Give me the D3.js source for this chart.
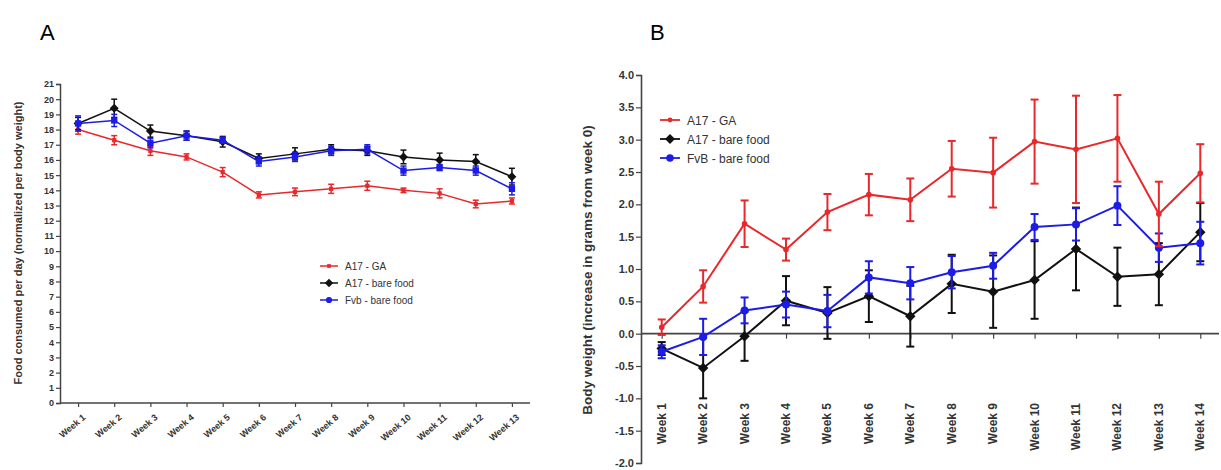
<!DOCTYPE html>
<html>
<head>
<meta charset="utf-8">
<script src="https://cdn.jsdelivr.net/npm/d3@7"></script>
<style>
  body { margin: 0; background: #fff; }
  text { font-family: "Liberation Sans", Arial, sans-serif; }
</style>
</head>
<body>
<div id="chart"></div>
<script>
// Panel A: food consumed per day
const weeksA = d3.range(1, 14).map(i => "Week " + i);
const foodGA = [18.0, 17.3, 16.6, 16.2, 15.2, 13.7, 13.9, 14.1, 14.3, 14.0, 13.8, 13.1, 13.3];
const foodGAErr = [0.3, 0.3, 0.3, 0.2, 0.3, 0.2, 0.25, 0.3, 0.3, 0.15, 0.3, 0.25, 0.2];
const foodA17 = [18.4, 19.4, 17.9, 17.6, 17.2, 16.1, 16.4, 16.7, 16.6, 16.2, 16.0, 15.9, 14.9];
const foodA17Err = [0.4, 0.6, 0.4, 0.3, 0.35, 0.3, 0.4, 0.3, 0.3, 0.45, 0.45, 0.45, 0.55];
const foodFvb = [18.4, 18.6, 17.1, 17.6, 17.3, 15.9, 16.2, 16.6, 16.7, 15.3, 15.5, 15.3, 14.1];
const foodFvbErr = [0.5, 0.4, 0.3, 0.3, 0.2, 0.3, 0.3, 0.3, 0.3, 0.3, 0.2, 0.3, 0.4];
const legendA = ["A17 - GA", "A17 - bare food", "Fvb - bare food"];

// Panel B: body weight gain
const weeksB = d3.range(1, 15).map(i => "Week " + i);
const bwGA = [0.10, 0.73, 1.70, 1.30, 1.88, 2.15, 2.07, 2.55, 2.49, 2.97, 2.85, 3.02, 1.85, 2.48];
const bwGAErr = [0.12, 0.25, 0.36, 0.17, 0.28, 0.32, 0.33, 0.43, 0.54, 0.65, 0.83, 0.67, 0.5, 0.45];
const bwA17 = [-0.23, -0.53, -0.04, 0.51, 0.32, 0.58, 0.27, 0.77, 0.65, 0.83, 1.31, 0.88, 0.92, 1.57];
const bwA17Err = [0.1, 0.47, 0.38, 0.38, 0.4, 0.4, 0.47, 0.45, 0.56, 0.6, 0.64, 0.45, 0.48, 0.45];
const bwFvb = [-0.28, -0.05, 0.36, 0.45, 0.35, 0.87, 0.78, 0.95, 1.05, 1.65, 1.69, 1.98, 1.33, 1.40];
const bwFvbErr = [0.1, 0.28, 0.2, 0.2, 0.25, 0.25, 0.25, 0.25, 0.2, 0.2, 0.25, 0.3, 0.22, 0.33];
const legendB = ["A17 - GA", "A17 - bare food", "FvB - bare food"];

const colors = { red: "#e8282a", black: "#111111", blue: "#1c1ce6" };
const axisColor = "#444";

const svg = d3.select("#chart").append("svg")
  .attr("width", 1221)
  .attr("height", 470);

// marker shapes (diamond = square turned 45deg, like the original)
function drawMarker(g, shape, x, y, size, color) {
  let sym = shape === "circle" ? d3.symbolCircle : d3.symbolSquare;
  let rot = shape === "diamond" ? " rotate(45)" : "";
  g.append("path")
    .attr("d", d3.symbol().type(sym).size(size)())
    .attr("transform", `translate(${x},${y})${rot}`)
    .attr("fill", color);
}

function drawSeries(g, x, y, cats, vals, errs, color, shape, size, cap, lw) {
  const line = d3.line().x((d, i) => x(cats[i])).y(d => y(d));
  g.append("path")
    .datum(vals)
    .attr("d", line)
    .attr("fill", "none")
    .attr("stroke", color)
    .attr("stroke-width", lw);

  vals.forEach((v, i) => {
    const cx = x(cats[i]);
    const eg = g.append("g").attr("stroke", color).attr("stroke-width", lw);
    eg.append("line").attr("x1", cx).attr("x2", cx).attr("y1", y(v - errs[i])).attr("y2", y(v + errs[i]));
    eg.append("line").attr("x1", cx - cap).attr("x2", cx + cap).attr("y1", y(v - errs[i])).attr("y2", y(v - errs[i]));
    eg.append("line").attr("x1", cx - cap).attr("x2", cx + cap).attr("y1", y(v + errs[i])).attr("y2", y(v + errs[i]));
    drawMarker(g, shape, cx, y(v), size, color);
  });
}

// ---------------- Panel A ----------------
const gA = svg.append("g");
const xA = d3.scalePoint().domain(weeksA).range([60, 530]).padding(0.5);
const yA = d3.scaleLinear().domain([0, 21]).range([403, 84]);

gA.append("text").attr("x", 40).attr("y", 40).style("font-size", "22px").text("A");

const yAxisA = gA.append("g")
  .attr("transform", "translate(60,0)")
  .call(d3.axisLeft(yA).tickValues(d3.range(0, 22)).tickSize(4).tickPadding(2));
yAxisA.selectAll("text").style("font-size", "9px").style("font-weight", "bold").attr("fill", "#333");

const xAxisA = gA.append("g")
  .attr("transform", "translate(0,403)")
  .call(d3.axisBottom(xA).tickSize(4).tickSizeOuter(0));
xAxisA.select(".domain").attr("d", "M60,0H530");
xAxisA.selectAll("text")
  .style("font-size", "9px").style("font-weight", "bold").attr("fill", "#333")
  .attr("text-anchor", "end")
  .attr("dy", 0)
  .attr("transform", "translate(3,10) rotate(-40)");

[yAxisA, xAxisA].forEach(a => {
  a.selectAll(".domain").attr("stroke", axisColor).attr("stroke-width", 1.5);
  a.selectAll(".tick line").attr("stroke", axisColor).attr("stroke-width", 1.2);
});

gA.append("text")
  .attr("transform", "translate(22,243) rotate(-90)")
  .attr("text-anchor", "middle")
  .style("font-size", "11px").style("font-weight", "bold").attr("fill", "#333")
  .text("Food consumed per day (normalized per body weight)");

drawSeries(gA, xA, yA, weeksA, foodGA, foodGAErr, colors.red, "square", 18, 3, 1.5);
drawSeries(gA, xA, yA, weeksA, foodA17, foodA17Err, colors.black, "diamond", 40, 3, 1.5);
drawSeries(gA, xA, yA, weeksA, foodFvb, foodFvbErr, colors.blue, "square", 40, 3, 1.5);

const legA = gA.append("g").attr("transform", "translate(320,266)");
[[colors.red, "square", 14], [colors.black, "diamond", 36], [colors.blue, "circle", 30]].forEach((s, i) => {
  const row = legA.append("g").attr("transform", `translate(0,${i * 17})`);
  row.append("line").attr("x1", 0).attr("x2", 18).attr("stroke", s[0]).attr("stroke-width", 1.5);
  drawMarker(row, s[1], 9, 0, s[2], s[0]);
  row.append("text").attr("x", 25).attr("y", 4)
    .style("font-size", "10px").attr("fill", "#333").text(legendA[i]);
});

// ---------------- Panel B ----------------
const gB = svg.append("g");
const xB = d3.scalePoint().domain(weeksB).range([641, 1221]).padding(0.5);
const yB = d3.scaleLinear().domain([-2, 4]).range([463, 75]);

gB.append("text").attr("x", 650).attr("y", 40).style("font-size", "22px").text("B");

const yAxisB = gB.append("g")
  .attr("transform", "translate(641,0)")
  .call(d3.axisLeft(yB).tickValues(d3.range(-2, 4.01, 0.5)).tickFormat(d => d.toFixed(1)).tickSize(5).tickPadding(2));
yAxisB.selectAll("text").style("font-size", "11px").style("font-weight", "bold").attr("fill", "#333");

const xAxisB = gB.append("g")
  .attr("transform", `translate(0,${yB(0)})`)
  .call(d3.axisBottom(xB).tickSize(5).tickSizeOuter(0));
xAxisB.select(".domain").attr("d", "M641,0H1219");
xAxisB.selectAll("text").remove();

[yAxisB, xAxisB].forEach(a => {
  a.selectAll(".domain").attr("stroke", axisColor).attr("stroke-width", 1.6);
  a.selectAll(".tick line").attr("stroke", axisColor).attr("stroke-width", 1.2);
});

gB.selectAll(".wklab")
  .data(weeksB)
  .enter().append("text")
  .attr("transform", d => `translate(${xB(d) + 4},403) rotate(-90)`)
  .attr("text-anchor", "end")
  .style("font-size", "12px").style("font-weight", "bold").attr("fill", "#333")
  .text(d => d);

gB.append("text")
  .attr("transform", "translate(592,270) rotate(-90)")
  .attr("text-anchor", "middle")
  .style("font-size", "13.5px").style("font-weight", "bold").attr("fill", "#333")
  .text("Body weight (increase in grams from week 0)");

drawSeries(gB, xB, yB, weeksB, bwA17, bwA17Err, colors.black, "diamond", 55, 4, 2);
drawSeries(gB, xB, yB, weeksB, bwFvb, bwFvbErr, colors.blue, "circle", 50, 4, 2);
drawSeries(gB, xB, yB, weeksB, bwGA, bwGAErr, colors.red, "circle", 25, 4, 2);

const legB = gB.append("g").attr("transform", "translate(660,120)");
[[colors.red, "circle", 18], [colors.black, "diamond", 50], [colors.blue, "circle", 45]].forEach((s, i) => {
  const row = legB.append("g").attr("transform", `translate(0,${i * 19})`);
  row.append("line").attr("x1", 0).attr("x2", 20).attr("stroke", s[0]).attr("stroke-width", 1.8);
  drawMarker(row, s[1], 10, 0, s[2], s[0]);
  row.append("text").attr("x", 27).attr("y", 4.5)
    .style("font-size", "12px").attr("fill", "#333").text(legendB[i]);
});
</script>
</body>
</html>
